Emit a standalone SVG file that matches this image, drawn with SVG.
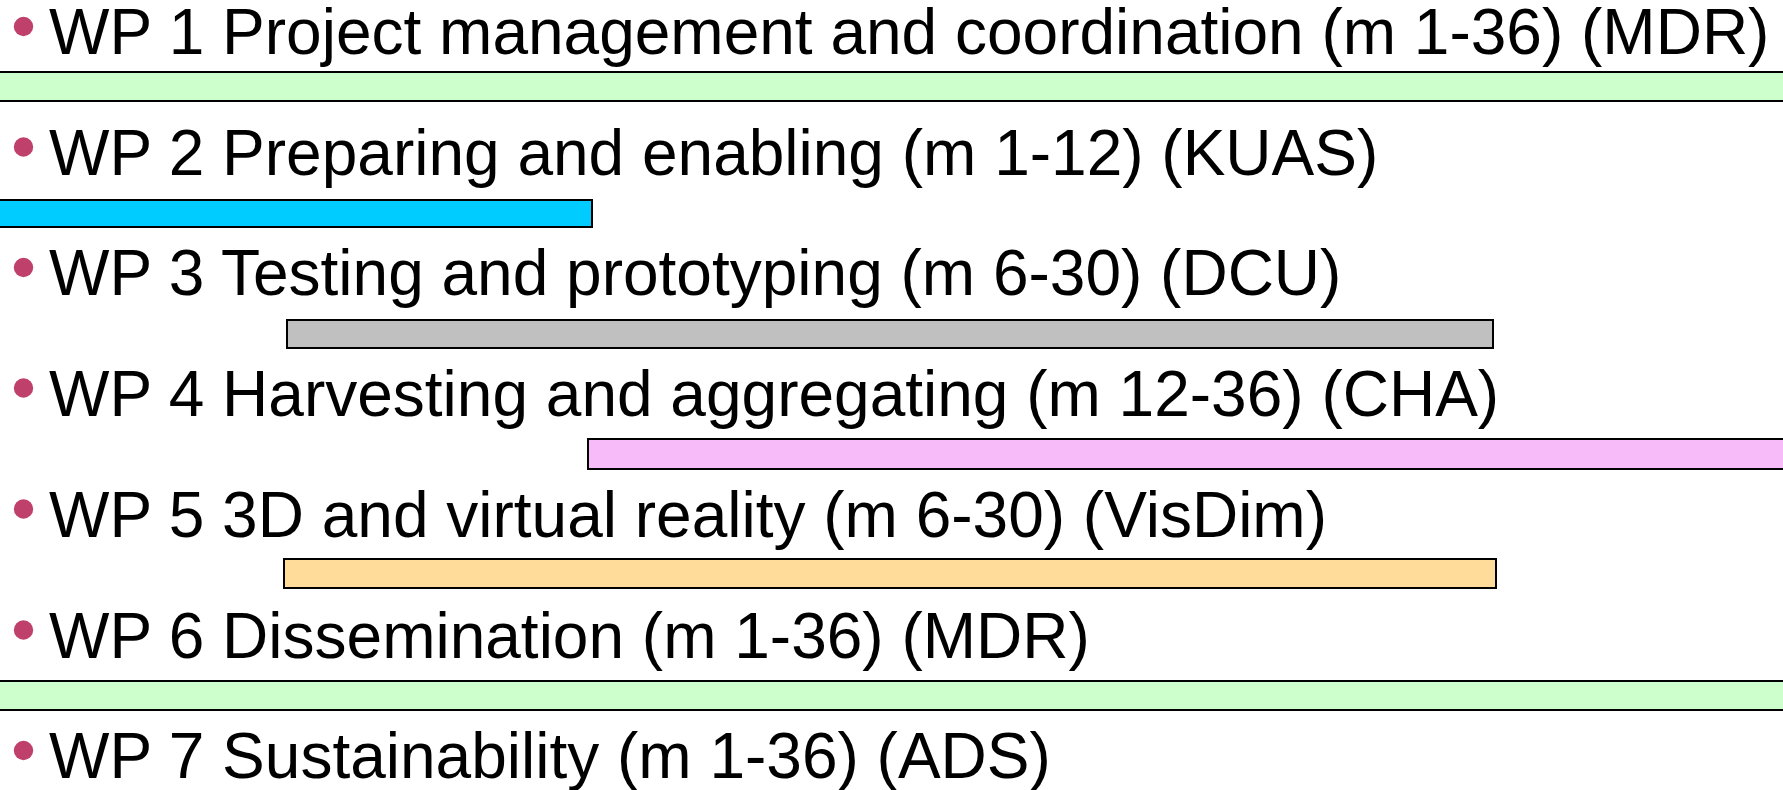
<svg xmlns="http://www.w3.org/2000/svg" width="1783" height="790" viewBox="0 0 1783 790">
<style>
.t{font-family:"Liberation Sans",Arial,sans-serif;font-size:64px;fill:#000}
.b{fill:#C0406C}
.bar{stroke:#000;stroke-width:2}
</style>
<rect width="1783" height="790" fill="#fff"/>
<g id="wp1"><circle class="b" cx="23.5" cy="26.5" r="9.7"/><text class="t" x="49" y="54">WP 1 Project management and coordination (m 1-36) (MDR)</text><rect class="bar" x="-5" y="72" width="1800" height="29" fill="#CCFFCC"/></g>
<g id="wp2"><circle class="b" cx="23.5" cy="147" r="9.7"/><text class="t" x="49" y="174.5">WP 2 Preparing and enabling (m 1-12) (KUAS)</text><rect class="bar" x="-5" y="200" width="597" height="27" fill="#00CCFF"/></g>
<g id="wp3"><circle class="b" cx="23.5" cy="267.5" r="9.7"/><text class="t" x="49" y="295">WP 3 Testing and prototyping (m 6-30) (DCU)</text><rect class="bar" x="287" y="320" width="1206" height="28" fill="#C0C0C0"/></g>
<g id="wp4"><circle class="b" cx="23.5" cy="388" r="9.7"/><text class="t" x="49" y="415.5">WP 4 Harvesting and aggregating (m 12-36) (CHA)</text><rect class="bar" x="588" y="439" width="1210" height="30" fill="#F7BBFA"/></g>
<g id="wp5"><circle class="b" cx="23.5" cy="509" r="9.7"/><text class="t" x="49" y="536.5">WP 5 3D and virtual reality (m 6-30) (VisDim)</text><rect class="bar" x="284" y="559" width="1212" height="29" fill="#FFDC9A"/></g>
<g id="wp6"><circle class="b" cx="23.5" cy="630" r="9.7"/><text class="t" x="49" y="657.5">WP 6 Dissemination (m 1-36) (MDR)</text><rect class="bar" x="-5" y="681" width="1800" height="29" fill="#CCFFCC"/></g>
<g id="wp7"><circle class="b" cx="23.5" cy="750.5" r="9.7"/><text class="t" x="49" y="778">WP 7 Sustainability (m 1-36) (ADS)</text></g>
<g id="connectors"/>
</svg>
